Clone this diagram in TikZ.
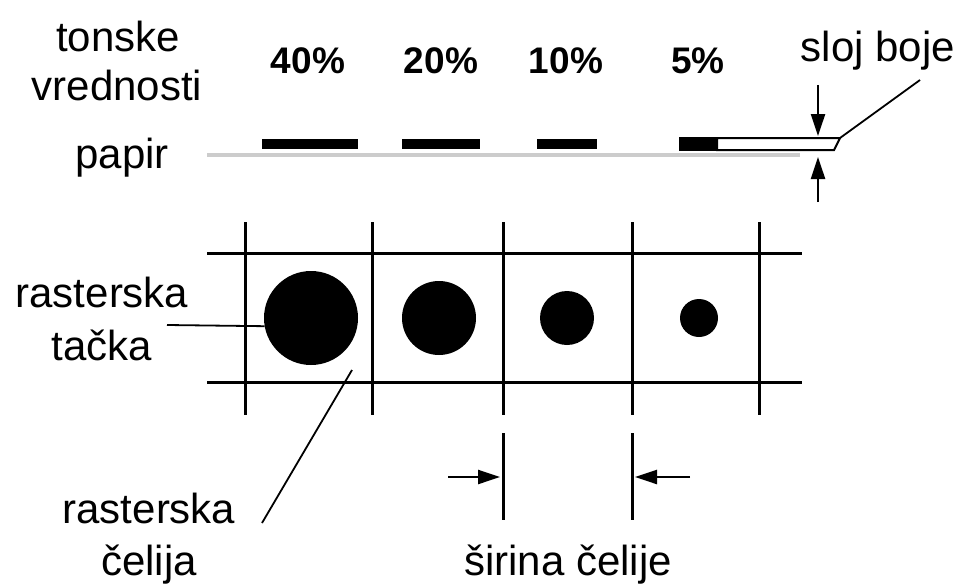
\documentclass[tikz,border=0pt]{standalone}
\usepackage{fontspec}
\setmainfont{Liberation Sans}
\usetikzlibrary{arrows.meta}
\begin{document}
\begin{tikzpicture}[x=1pt,y=-1pt,
 lbl/.style={anchor=base,inner sep=0pt,font=\fontsize{42}{48}\selectfont},
 pct/.style={anchor=base,inner sep=0pt,font=\fontsize{37}{44}\selectfont\bfseries},
 gridline/.style={line width=3pt},
 leader/.style={line width=1.8pt},
 ink/.style={line width=10pt},
 dot/.style={circle,fill=black,inner sep=0pt},
 arr/.style={line width=2.4pt,-{Triangle[length=22pt,width=14pt]}}]
\useasboundingbox (0,0) rectangle (965,583);
% labels
\node[lbl] (tonske) at (118,52) {tonske};
\node[lbl] (vred) at (117,100) {vrednosti};
\node[lbl] (papir) at (122,168) {papir};
\node[pct] (p40) at (308,74) {40\%};
\node[pct] (p20) at (441,74) {20\%};
\node[pct] (p10) at (566,74) {10\%};
\node[pct] (p5) at (698,74) {5\%};
\node[lbl] (sloj) at (878,62) {sloj boje};
\node[lbl] (rt1) at (102,307) {rasterska};
\node[lbl] (rt2) at (102,360) {tačka};
\node[lbl] (rc1) at (149,523) {rasterska};
\node[lbl] (rc2) at (149,575) {čelija};
\node[lbl] (sir) at (568,575) {širina čelije};
% paper
\draw[line width=4pt,black!20] (207,155) -- (800,155);
% ink layers
\draw[ink] (262,144) -- (358,144);
\draw[ink] (402,144) -- (480,144);
\draw[ink] (537,144) -- (597,144);
\fill (680,138) rectangle (717,150);
\draw[line width=2pt,fill=white] (717,138) -- (840,138) -- (834,150) -- (717,150) -- cycle;
\draw[line width=2pt] (680,138) rectangle (717,150);
\coordinate (barend) at (840,138);
\coordinate (slojleg) at (920,80);
\draw[leader] (barend) -- (slojleg);
\coordinate (a1s) at (818,85);
\coordinate (a1e) at (818,136);
\coordinate (a2s) at (818,202);
\coordinate (a2e) at (818,157);
\draw[arr] (a1s) -- (a1e);
\draw[arr] (a2s) -- (a2e);
% grid
\draw[gridline] (207,253) -- (802,253);
\draw[gridline] (207,382) -- (802,382);
\foreach \x in {245,372,503,632,759}{\draw[gridline] (\x,222) -- (\x,415);}
\draw[gridline] (503,433) -- (503,520);
\draw[gridline] (632,433) -- (632,520);
% dots
\node[dot,minimum size=94pt] (d1) at (311,318) {};
\node[dot,minimum size=74pt] (d2) at (439,318) {};
\node[dot,minimum size=54pt] (d3) at (567,318) {};
\node[dot,minimum size=38pt] (d4) at (699,318) {};
% leaders
\coordinate (tl) at (167,325);
\draw[leader] (tl) -- (d1.190);
\coordinate (cl1) at (352,370);
\coordinate (cl2) at (262,523);
\draw[leader] (cl1) -- (cl2);
% width arrows
\coordinate (w1s) at (448,477);
\coordinate (w1e) at (500,477);
\coordinate (w2s) at (690,477);
\coordinate (w2e) at (635,477);
\draw[arr] (w1s) -- (w1e);
\draw[arr] (w2s) -- (w2e);
\end{tikzpicture}
\end{document}
